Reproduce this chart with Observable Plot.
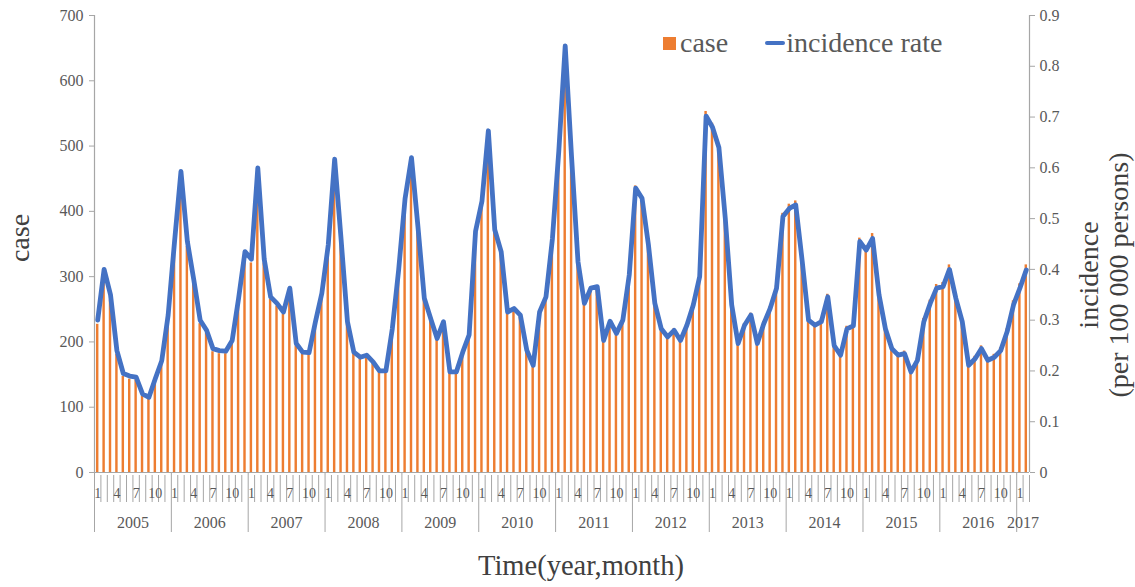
<!DOCTYPE html>
<html>
<head>
<meta charset="utf-8">
<script src="https://cdn.jsdelivr.net/npm/d3@7"></script>
<script src="https://cdn.jsdelivr.net/npm/@observablehq/plot@0.6"></script>
<style>
  html, body { margin: 0; padding: 0; background: #ffffff; }
  #wrap { position: relative; width: 1135px; height: 587px; }
  .legend { position: absolute; left: 663px; top: 29px; height: 28px; display: flex; align-items: center;
            font-family: 'Liberation Serif', 'Times New Roman', serif; font-size: 28px; line-height: 28px; color: #595959; }
  .sw { display: inline-block; width: 13px; height: 13px; background: #ED7D31; margin-right: 4px; }
  .ln { display: inline-block; width: 20px; height: 4px; background: #4472C4; margin-left: 37px; margin-right: 1px; border-radius: 2px; }
</style>
</head>
<body>
<div id="wrap">
  <div id="chart"></div>
  <div class="legend"><span class="sw"></span><span>case</span><span class="ln"></span><span>incidence rate</span></div>
</div>
<script>
// ---- data (monthly, Jan 2005 – Feb 2017) ----
const years = [2005, 2006, 2007, 2008, 2009, 2010, 2011, 2012, 2013, 2014, 2015, 2016, 2017];
const monthsInYear = [12, 12, 12, 12, 12, 12, 12, 12, 12, 12, 12, 12, 2];
const monthTickLabels = [1, 4, 7, 10];
const caseTicks = [0, 100, 200, 300, 400, 500, 600, 700];
const incidenceTicks = [0, 0.1, 0.2, 0.3, 0.4, 0.5, 0.6, 0.7, 0.8, 0.9];

const cases = [
  227, 302, 264, 181, 147, 143, 142, 117, 112, 140, 166, 234,
  346, 451, 346, 289, 228, 213, 185, 182, 182, 198, 261, 331,
  321, 459, 321, 265, 255, 242, 278, 194, 181, 181, 227, 270,
  344, 474, 353, 228, 182, 174, 177, 167, 154, 154, 217, 307,
  417, 479, 374, 265, 234, 204, 229, 153, 153, 183, 209, 367,
  414, 522, 371, 338, 245, 251, 241, 187, 164, 245, 268, 357,
  494, 655, 484, 324, 260, 283, 285, 203, 232, 214, 234, 303,
  439, 423, 351, 261, 222, 209, 220, 204, 227, 259, 303, 553,
  535, 504, 394, 260, 200, 228, 244, 200, 231, 254, 286, 397,
  411, 416, 329, 237, 229, 235, 273, 198, 182, 224, 228, 359,
  347, 366, 278, 224, 193, 183, 186, 157, 175, 236, 264, 288,
  291, 318, 273, 236, 168, 178, 194, 176, 181, 191, 220, 263,
  289, 318
];

const incidence = [
  0.300, 0.400, 0.350, 0.240, 0.195, 0.190, 0.188, 0.155, 0.148, 0.185, 0.220, 0.310,
  0.455, 0.593, 0.455, 0.380, 0.300, 0.280, 0.244, 0.240, 0.239, 0.260, 0.343, 0.435,
  0.420, 0.600, 0.420, 0.346, 0.333, 0.316, 0.363, 0.254, 0.237, 0.236, 0.297, 0.353,
  0.448, 0.617, 0.460, 0.297, 0.237, 0.227, 0.231, 0.218, 0.200, 0.200, 0.283, 0.400,
  0.540, 0.620, 0.485, 0.343, 0.303, 0.264, 0.297, 0.198, 0.198, 0.237, 0.271, 0.475,
  0.534, 0.673, 0.478, 0.435, 0.316, 0.323, 0.310, 0.241, 0.211, 0.316, 0.346, 0.460,
  0.633, 0.840, 0.620, 0.415, 0.333, 0.363, 0.366, 0.260, 0.298, 0.274, 0.300, 0.389,
  0.560, 0.540, 0.448, 0.333, 0.283, 0.267, 0.280, 0.260, 0.290, 0.330, 0.386, 0.702,
  0.680, 0.640, 0.500, 0.330, 0.254, 0.290, 0.310, 0.254, 0.293, 0.323, 0.363, 0.504,
  0.520, 0.527, 0.417, 0.300, 0.290, 0.297, 0.346, 0.250, 0.231, 0.283, 0.289, 0.455,
  0.438, 0.461, 0.350, 0.283, 0.244, 0.231, 0.234, 0.198, 0.221, 0.297, 0.333, 0.363,
  0.366, 0.400, 0.343, 0.297, 0.211, 0.224, 0.244, 0.221, 0.227, 0.240, 0.277, 0.330,
  0.363, 0.399
];

// ---- layout ----
const W = 1135, H = 587;
const mL = 94, mR = 106, mT = 15, mB = 115;
const caseMax = 700, incMax = 0.9;
const orange = "#ED7D31", blue = "#4472C4";
const axisGray = "#a6a6a6", labelGray = "#595959", titleGray = "#404040";
const serif = "'Liberation Serif', 'Times New Roman', serif";

// convert a pixel offset below the baseline into y-scale units
const below = p => -p * caseMax / (H - mT - mB);
// map incidence onto the case axis (secondary axis)
const toCase = v => v * caseMax / incMax;

// table built from the arrays
const rows = [];
years.forEach((y, k) => {
  for (let m = 1; m <= monthsInYear[k]; m++) rows.push({ year: y, month: m });
});
rows.forEach((r, i) => { r.i = i; r.case = cases[i]; r.inc = incidence[i]; });
const n = rows.length;

const yearSpans = [];
{ let s = 0; years.forEach((y, k) => { yearSpans.push({ year: y, start: s, count: monthsInYear[k] }); s += monthsInYear[k]; }); }
const boundaries = d3.range(0, n + 1);
const yearBounds = yearSpans.map(d => d.start);
const monthBounds = boundaries.filter(b => !yearBounds.includes(b));

const chart = Plot.plot({
  width: W, height: H,
  marginLeft: mL, marginRight: mR, marginTop: mT, marginBottom: mB,
  style: { fontFamily: serif, background: "#ffffff", overflow: "visible" },
  x: { domain: [0, n], axis: null },
  y: { domain: [0, caseMax], axis: null },
  marks: [
    // bars
    Plot.rectY(rows, { x1: d => d.i + 0.31, x2: d => d.i + 0.69, y: "case", fill: orange }),
    // axis lines
    Plot.ruleX([0, n], { stroke: axisGray, strokeWidth: 1.2 }),
    Plot.ruleY([0], { stroke: axisGray, strokeWidth: 1.2 }),
    // incidence line
    Plot.lineY(rows, { x: d => d.i + 0.5, y: d => toCase(d.inc), stroke: blue, strokeWidth: 4.8,
                       strokeLinejoin: "round", strokeLinecap: "round" }),
    // left axis
    Plot.axisY(caseTicks, { anchor: "left", tickSize: 5, tickPadding: 6, fontSize: 16,
                            stroke: axisGray, fill: labelGray, label: null }),
    // right axis (incidence)
    Plot.axisY(incidenceTicks.map(toCase), { anchor: "right", tickSize: 5, tickPadding: 5, fontSize: 16,
                            stroke: axisGray, fill: labelGray, label: null,
                            tickFormat: d => String(+(d * incMax / caseMax).toFixed(1)) }),
    // category axis: month ticks and year separators
    Plot.ruleX(monthBounds, { y1: below(3), y2: below(30), stroke: axisGray }),
    Plot.ruleX(yearBounds, { y1: 0, y2: below(60), stroke: axisGray }),
    Plot.text(rows.filter(d => monthTickLabels.includes(d.month)), {
      x: d => d.i + 0.5, y: below(21), text: d => String(d.month), fontSize: 14, fill: labelGray }),
    Plot.text(yearSpans, { x: d => d.start + d.count / 2, y: below(50), text: d => String(d.year),
      fontSize: 16, fill: labelGray }),
    // axis titles
    Plot.text(["Time(year,month)"], { frameAnchor: "bottom", textAnchor: "middle", lineAnchor: "middle",
      dx: 19, dy: 93, fontSize: 28.5, fill: titleGray }),
    Plot.text(["case"], { frameAnchor: "left", textAnchor: "middle", lineAnchor: "middle", rotate: -90,
      dx: -74, dy: -6, fontSize: 28, fill: titleGray }),
    Plot.text(["incidence\n(per 100 000 persons)"], { frameAnchor: "right", textAnchor: "middle", lineAnchor: "middle",
      rotate: -90, dx: 74, dy: 31, fontSize: 28, lineHeight: 1.05, fill: titleGray })
  ]
});
document.getElementById("chart").appendChild(chart);
</script>
</body>
</html>
